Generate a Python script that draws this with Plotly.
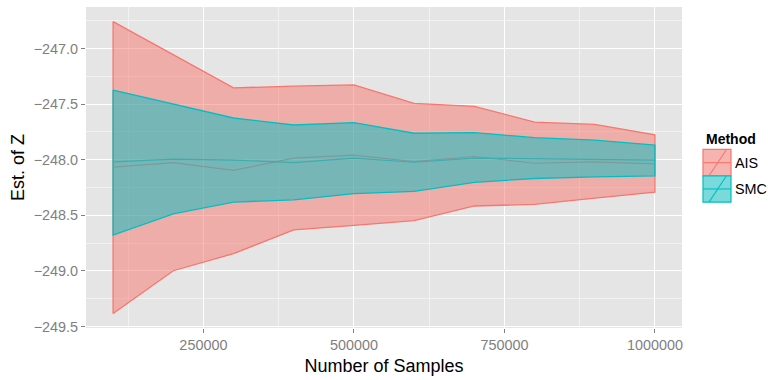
import plotly.graph_objects as go

# ---------------- data ----------------
samples = [100000, 200000, 300000, 400000, 500000, 600000, 700000, 800000, 900000, 1000000]
ais_upper = [-246.758, -247.058, -247.354, -247.339, -247.328, -247.494, -247.520, -247.662, -247.683, -247.776]
ais_lower = [-249.382, -248.998, -248.844, -248.631, -248.591, -248.547, -248.416, -248.401, -248.346, -248.291]
ais_mean = [-248.067, -248.026, -248.096, -247.985, -247.959, -248.017, -247.971, -248.032, -248.020, -248.038]
smc_upper = [-247.374, -247.500, -247.625, -247.688, -247.666, -247.762, -247.756, -247.802, -247.823, -247.869]
smc_lower = [-248.678, -248.486, -248.381, -248.361, -248.305, -248.285, -248.204, -248.169, -248.154, -248.145]
smc_mean = [-248.020, -247.994, -248.003, -248.026, -247.985, -248.023, -247.985, -247.991, -247.991, -248.003]

x_ticks = [250000, 500000, 750000, 1000000]
y_ticks = [-249.5, -249.0, -248.5, -248.0, -247.5, -247.0]
methods = ["AIS", "SMC"]

RED = "#F8766D"
TEAL = "#00BFC4"
RED_FILL = "rgba(248,118,109,0.5)"
TEAL_FILL = "rgba(0,191,196,0.5)"
FONT = "Liberation Sans, Arial, Helvetica, sans-serif"

W, H = 768, 380
L, R, T, B = 86, 86, 7, 44
PW, PH = W - L - R, H - T - B


def pxx(px):
    return (px - L) / PW


def pxy(py):
    return (H - B - py) / PH


fig = go.Figure()

# mean lines (drawn under ribbons, as in the original)
fig.add_trace(go.Scatter(x=samples, y=ais_mean, mode="lines",
                         line=dict(color=RED, width=1.2), showlegend=False, hoverinfo="skip"))
fig.add_trace(go.Scatter(x=samples, y=smc_mean, mode="lines",
                         line=dict(color=TEAL, width=1.2), showlegend=False, hoverinfo="skip"))

# ribbons as closed polygons
for upper, lower, col, fcol in [(ais_upper, ais_lower, RED, RED_FILL),
                                (smc_upper, smc_lower, TEAL, TEAL_FILL)]:
    xs = samples + samples[::-1] + [samples[0]]
    ys = upper + lower[::-1] + [upper[0]]
    fig.add_trace(go.Scatter(x=xs, y=ys, mode="lines", fill="toself",
                             fillcolor=fcol, line=dict(color=col, width=1.3),
                             showlegend=False, hoverinfo="skip"))

# ---------------- manual legend ----------------
shapes = []
annotations = []
annotations.append(dict(x=pxx(704), y=pxy(142), xref="paper", yref="paper",
                        text="<b>Method</b>", showarrow=False, xanchor="left", yanchor="middle",
                        font=dict(family=FONT, size=14, color="black")))
key_tops = [153, 180]
for name, col, fcol, top in zip(methods, [RED, TEAL], [RED_FILL, TEAL_FILL], key_tops):
    x0, x1 = 703, 731
    y0, y1 = top, top + 27
    shapes.append(dict(type="rect", xref="paper", yref="paper",
                       x0=pxx(x0), x1=pxx(x1), y0=pxy(y1), y1=pxy(y0),
                       fillcolor="#F2F2F2", line=dict(width=0), layer="above"))
    shapes.append(dict(type="rect", xref="paper", yref="paper",
                       x0=pxx(x0), x1=pxx(x1), y0=pxy(y1), y1=pxy(y0),
                       fillcolor=fcol, line=dict(color=col, width=1.2), layer="above"))
    shapes.append(dict(type="line", xref="paper", yref="paper",
                       x0=pxx(x0 + 6), x1=pxx(x0 + 23.5), y0=pxy(y1), y1=pxy(y0),
                       line=dict(color=col, width=1.1), layer="above"))
    shapes.append(dict(type="line", xref="paper", yref="paper",
                       x0=pxx(x0), x1=pxx(x1), y0=pxy((y0 + y1) / 2), y1=pxy((y0 + y1) / 2),
                       line=dict(color=col, width=1.1), layer="above"))
    annotations.append(dict(x=pxx(733), y=pxy((y0 + y1) / 2), xref="paper", yref="paper",
                            text=name, showarrow=False, xanchor="left", yanchor="middle",
                            font=dict(family=FONT, size=14.4, color="black")))

fig.update_layout(
    width=W, height=H, autosize=False,
    margin=dict(l=L, r=R, t=T, b=B, pad=0),
    paper_bgcolor="white", plot_bgcolor="#E5E5E5",
    font=dict(family=FONT, size=14.4, color="#7F7F7F"),
    showlegend=False,
    shapes=shapes, annotations=annotations,
)
fig.update_xaxes(
    range=[55000, 1045000], tickmode="array", tickvals=x_ticks,
    ticktext=[str(v) for v in x_ticks],
    ticks="outside", ticklen=4, tickwidth=1, tickcolor="#7F7F7F",
    tickfont=dict(family=FONT, size=14.4, color="#7F7F7F"),
    showgrid=True, gridcolor="white", gridwidth=1.1,
    minor=dict(tickmode="array", tickvals=[125000, 375000, 625000, 875000],
               showgrid=True, gridcolor="#F2F2F2", gridwidth=0.6, ticks=""),
    zeroline=False, showline=False,
    title=dict(text="Number of Samples", font=dict(family=FONT, size=18, color="black"), standoff=7),
)
fig.update_yaxes(
    range=[-249.513, -246.627], tickmode="array", tickvals=y_ticks,
    tickformat=".1f",
    ticks="outside", ticklen=4, tickwidth=1, tickcolor="#7F7F7F",
    tickfont=dict(family=FONT, size=14.4, color="#7F7F7F"),
    showgrid=True, gridcolor="white", gridwidth=1.1,
    minor=dict(tickmode="array", tickvals=[-249.25, -248.75, -248.25, -247.75, -247.25, -246.75],
               showgrid=True, gridcolor="#F2F2F2", gridwidth=0.6, ticks=""),
    zeroline=False, showline=False,
    title=dict(text="Est. of Z", font=dict(family=FONT, size=18, color="black"), standoff=4),
)

fig.write_html("out.html")
